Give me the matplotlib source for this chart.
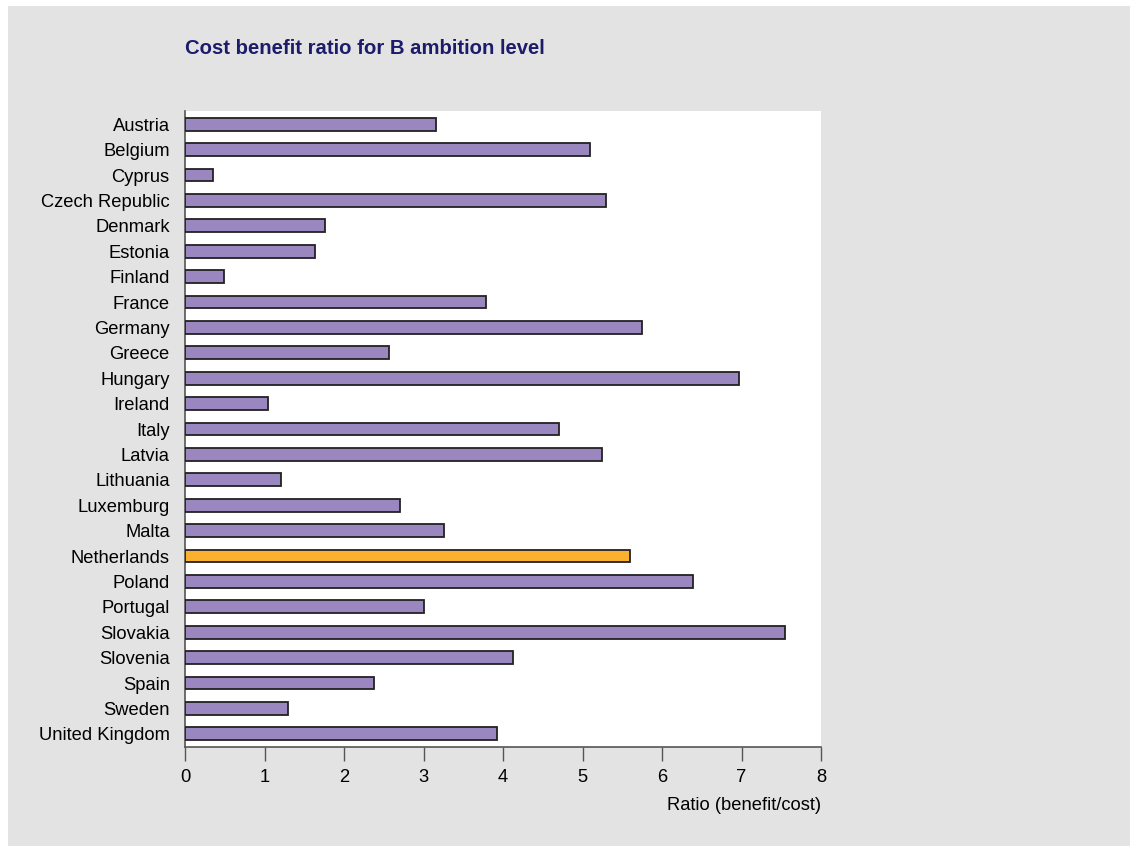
import matplotlib.pyplot as plt
from matplotlib.patches import Rectangle

countries = [
    "Austria", "Belgium", "Cyprus", "Czech Republic", "Denmark", "Estonia",
    "Finland", "France", "Germany", "Greece", "Hungary", "Ireland", "Italy",
    "Latvia", "Lithuania", "Luxemburg", "Malta", "Netherlands", "Poland",
    "Portugal", "Slovakia", "Slovenia", "Spain", "Sweden", "United Kingdom",
]
ratios = [
    3.16, 5.09, 0.35, 5.30, 1.76, 1.64, 0.49, 3.79, 5.75, 2.56, 6.97, 1.05,
    4.70, 5.24, 1.21, 2.71, 3.26, 5.60, 6.39, 3.00, 7.55, 4.13, 2.38, 1.30,
    3.92,
]
highlight = "Netherlands"

purple = "#9a87bf"
orange = "#fbb12f"
panel_grey = "#e3e3e3"

plt.rcParams["font.family"] = ["Liberation Sans", "DejaVu Sans"]

fig = plt.figure(figsize=(11.3, 8.46), dpi=100, facecolor="white")
W, H = 1130, 846

# grey panel behind the chart
fig.patches.append(Rectangle((8 / W, 0), 1 - 8 / W, 1 - 6 / H,
                             transform=fig.transFigure, facecolor=panel_grey,
                             edgecolor="none", zorder=-1))

ax = fig.add_axes([185 / W, 1 - 746.5 / H, (821 - 185) / W, (746.5 - 111.5) / H])
ax.set_zorder(2)
ax.set_facecolor("white")

ypos = list(range(len(countries)))
colors = [orange if c == highlight else purple for c in countries]
ax.barh(ypos, ratios, height=0.5, color=colors, edgecolor="#222222",
        linewidth=1.3, zorder=3)

ax.set_ylim(len(countries) - 0.5, -0.5)
ax.set_xlim(0, 8)
ax.set_yticks(ypos)
ax.set_yticklabels(countries, fontsize=13.2)
ax.set_xticks(range(0, 9))
ax.tick_params(axis="x", labelsize=13.2, length=10, width=1, color="#555555",
               pad=6)
ax.tick_params(axis="y", length=0, pad=11)

for side in ("top", "right"):
    ax.spines[side].set_visible(False)
for side in ("left", "bottom"):
    ax.spines[side].set_color("#555555")
    ax.spines[side].set_linewidth(1.2)

ax.set_xlabel("Ratio (benefit/cost)", fontsize=13.2, loc="right", labelpad=8)

fig.text(185 / W, 1 - 48 / H, "Cost benefit ratio for B ambition level",
         fontsize=14.6, fontweight="bold", color="#1c1c6b", va="center")

fig.savefig("out.png", dpi=100, facecolor=fig.get_facecolor())
